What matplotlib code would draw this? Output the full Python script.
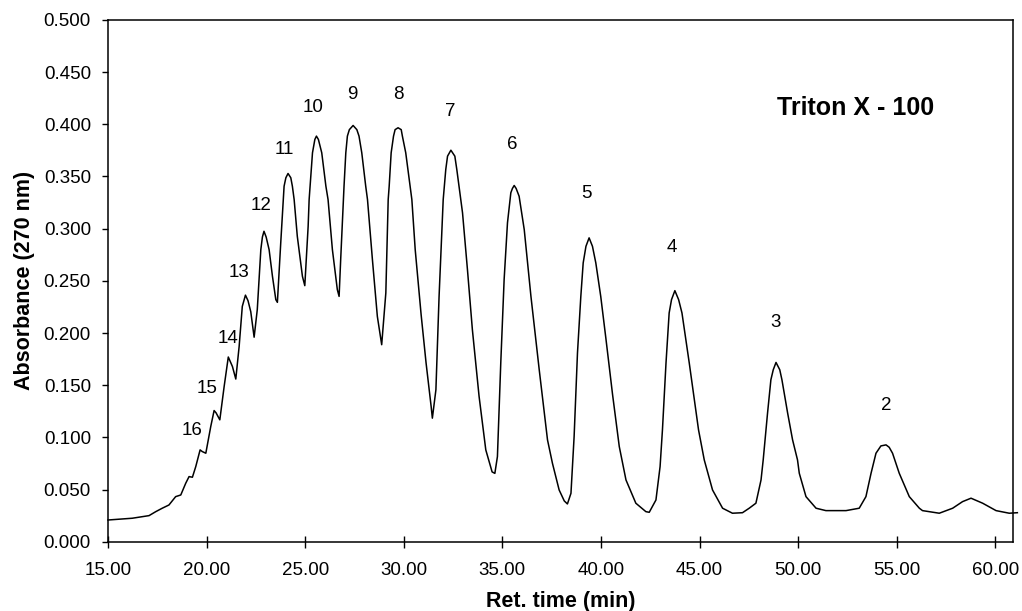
import numpy as np
import matplotlib
matplotlib.use('Agg')
import matplotlib.pyplot as plt
from matplotlib.ticker import FormatStrFormatter, MultipleLocator

plt.rcParams['font.family'] = ['Liberation Sans', 'DejaVu Sans']

# trace: retention time (min), absorbance
ret_time = [15.00, 16.23, 17.08, 17.42, 17.75, 18.09, 18.43, 18.69, 18.94, 19.11,
            19.28, 19.45, 19.67, 19.78, 19.96, 20.21, 20.38, 20.48, 20.67, 20.89,
            21.10, 21.31, 21.48, 21.65, 21.81, 21.97, 22.10, 22.24, 22.41, 22.57,
            22.75, 22.83, 22.91, 23.02, 23.17, 23.34, 23.51, 23.59, 23.76, 23.93,
            24.02, 24.13, 24.27, 24.35, 24.44, 24.60, 24.86, 24.98, 25.15, 25.20,
            25.25, 25.37, 25.49, 25.57, 25.67, 25.84, 26.05, 26.16, 26.38, 26.63,
            26.72, 26.80, 26.94, 26.97, 27.06, 27.14, 27.24, 27.43, 27.62, 27.73,
            27.87, 28.07, 28.16, 28.41, 28.66, 28.88, 29.09, 29.21, 29.26, 29.36,
            29.48, 29.56, 29.71, 29.87, 29.93, 30.10, 30.32, 30.41, 30.58, 30.88,
            31.13, 31.39, 31.45, 31.63, 31.79, 32.00, 32.13, 32.22, 32.39, 32.59,
            32.69, 32.89, 32.98, 33.23, 33.48, 33.82, 34.16, 34.48, 34.62, 34.75,
            34.92, 35.09, 35.26, 35.43, 35.51, 35.60, 35.70, 35.85, 36.11, 36.45,
            36.87, 37.29, 37.54, 37.88, 38.14, 38.30, 38.48, 38.64, 38.81, 38.98,
            39.10, 39.24, 39.40, 39.57, 39.74, 39.99, 40.25, 40.59, 40.93, 41.27,
            41.77, 42.28, 42.45, 42.79, 43.00, 43.12, 43.30, 43.46, 43.58, 43.75,
            43.94, 44.11, 44.48, 44.95, 45.24, 45.66, 46.17, 46.67, 47.18, 47.52,
            47.86, 48.12, 48.23, 48.45, 48.62, 48.74, 48.88, 49.07, 49.18, 49.47,
            49.72, 49.97, 50.06, 50.40, 50.91, 51.41, 52.43, 53.10, 53.44, 53.70,
            53.95, 54.20, 54.46, 54.62, 54.79, 55.13, 55.64, 56.15, 56.31, 57.16,
            57.84, 58.34, 58.77, 59.36, 60.04, 60.71, 61.12]
absorbance = [0.0208, 0.0225, 0.0250, 0.0288, 0.0321, 0.0352, 0.0432, 0.0448, 0.0560, 0.0624,
              0.0618, 0.0720, 0.0880, 0.0864, 0.0848, 0.1104, 0.1257, 0.1235, 0.1168, 0.1488,
              0.1770, 0.1679, 0.1559, 0.1871, 0.2255, 0.2363, 0.2310, 0.2204, 0.1960, 0.2224,
              0.2799, 0.2920, 0.2975, 0.2920, 0.2799, 0.2543, 0.2320, 0.2294, 0.2864, 0.3407,
              0.3488, 0.3529, 0.3488, 0.3407, 0.3279, 0.2927, 0.2543, 0.2454, 0.3023, 0.3279,
              0.3407, 0.3727, 0.3855, 0.3887, 0.3855, 0.3727, 0.3407, 0.3279, 0.2799, 0.2416,
              0.2351, 0.2703, 0.3279, 0.3407, 0.3727, 0.3887, 0.3949, 0.3989, 0.3949, 0.3887,
              0.3727, 0.3407, 0.3279, 0.2703, 0.2159, 0.1888, 0.2384, 0.3279, 0.3407, 0.3727,
              0.3887, 0.3949, 0.3967, 0.3949, 0.3887, 0.3727, 0.3407, 0.3279, 0.2799, 0.2176,
              0.1715, 0.1293, 0.1184, 0.1456, 0.2348, 0.3279, 0.3567, 0.3695, 0.3752, 0.3695,
              0.3567, 0.3279, 0.3152, 0.2607, 0.2032, 0.1392, 0.0880, 0.0669, 0.0655, 0.0816,
              0.1715, 0.2512, 0.3056, 0.3344, 0.3385, 0.3414, 0.3385, 0.3311, 0.2991, 0.2351,
              0.1648, 0.0976, 0.0752, 0.0496, 0.0391, 0.0362, 0.0464, 0.1008, 0.1808, 0.2351,
              0.2672, 0.2831, 0.2912, 0.2831, 0.2672, 0.2351, 0.1950, 0.1410, 0.0912, 0.0592,
              0.0369, 0.0288, 0.0282, 0.0400, 0.0720, 0.1072, 0.1712, 0.2192, 0.2320, 0.2406,
              0.2320, 0.2192, 0.1712, 0.1072, 0.0784, 0.0496, 0.0321, 0.0273, 0.0278, 0.0321,
              0.0369, 0.0592, 0.0784, 0.1232, 0.1552, 0.1648, 0.1718, 0.1648, 0.1552, 0.1232,
              0.0976, 0.0784, 0.0656, 0.0432, 0.0321, 0.0298, 0.0298, 0.0321, 0.0432, 0.0656,
              0.0848, 0.0918, 0.0928, 0.0905, 0.0848, 0.0656, 0.0432, 0.0321, 0.0298, 0.0273,
              0.0321, 0.0384, 0.0417, 0.0369, 0.0298, 0.0273, 0.0278]

# oligomer labels (number of ethylene oxide units) and where they sit
peak_labels = ['16', '15', '14', '13', '12', '11', '10', '9', '8', '7', '6', '5', '4', '3', '2']
label_x = [19.28, 20.04, 21.09, 21.65, 22.75, 23.93, 25.42, 27.40, 29.71, 32.34,
           35.51, 39.27, 43.58, 48.88, 54.46]
label_y = [0.107, 0.147, 0.195, 0.258, 0.322, 0.376, 0.416, 0.429, 0.429, 0.412,
           0.381, 0.334, 0.282, 0.210, 0.131]


def main():
    fig = plt.figure(figsize=(10.22, 6.11), dpi=100)
    ax = fig.add_axes([0.1057, 0.1134, 0.8855, 0.8539])

    ax.plot(ret_time, absorbance, color='black', lw=1.1, clip_on=False,
            solid_joinstyle='round')

    for lab, x, y in zip(peak_labels, label_x, label_y):
        ax.text(x, y, lab, fontsize=13.5, ha='center', va='center')

    ax.text(52.93, 0.416, 'Triton X - 100', fontsize=18, fontweight='bold',
            ha='center', va='center')

    ax.set_xlim(15, 60.9)
    ax.set_ylim(0, 0.5)
    ax.xaxis.set_major_locator(MultipleLocator(5))
    ax.yaxis.set_major_locator(MultipleLocator(0.05))
    ax.xaxis.set_major_formatter(FormatStrFormatter('%.2f'))
    ax.yaxis.set_major_formatter(FormatStrFormatter('%.3f'))
    ax.tick_params(axis='x', direction='inout', length=8.5, width=1.0, labelsize=13.5, pad=10)
    ax.tick_params(axis='y', direction='out', length=4.3, width=1.0, labelsize=13.5, pad=8)
    for sp in ax.spines.values():
        sp.set_linewidth(1.1)

    ax.set_xlabel('Ret. time (min)', fontsize=15.5, fontweight='bold', labelpad=9)
    ax.set_ylabel('Absorbance (270 nm)', fontsize=15.5, fontweight='bold', labelpad=6)

    fig.savefig('out.png', dpi=100)


if __name__ == '__main__':
    main()
